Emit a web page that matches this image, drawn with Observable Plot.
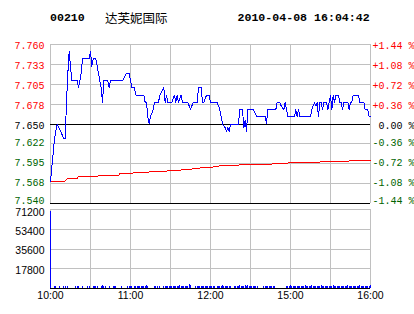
<!DOCTYPE html>
<html><head><meta charset="utf-8">
<script src="https://cdn.jsdelivr.net/npm/d3@7"></script>
<script src="https://cdn.jsdelivr.net/npm/@observablehq/plot@0.6"></script>
<style>
body{margin:0;background:#fff;}
#wrap{position:relative;width:414px;height:314px;overflow:hidden;background:#fff;}
#wrap svg{position:absolute;left:0;top:0;overflow:visible;}
.t{position:absolute;white-space:pre;color:#000;}
</style></head><body>
<div id="wrap">
<div class="t" id="code" style="left:50px;top:11px;line-height:11.6px;font:bold 11.6px 'Liberation Mono',monospace;"></div>
<div class="t" id="name" style="left:105px;top:7.5px;line-height:12.5px;font:12.5px 'Noto Sans CJK SC',sans-serif;"></div>
<div class="t" id="stamp" style="left:237.5px;top:11px;line-height:11.6px;font:bold 11.6px 'Liberation Mono',monospace;"></div>
</div>
<script>
// ---- header ----
const stockCode = "00210";
const stockName = "达芙妮国际";
const stamp = "2010-04-08 16:04:42";

// ---- price axis ----
const prevClose = 7.65;
const priceTicks = [7.76, 7.7325, 7.705, 7.6775, 7.65, 7.6225, 7.595, 7.5675, 7.54];
const priceLabels = ["7.760", "7.733", "7.705", "7.678", "7.650", "7.622", "7.595", "7.568", "7.540"];
const pctLabels = ["+1.44 %", "+1.08 %", "+0.72 %", "+0.36 %", " 0.00 %", "-0.36 %", "-0.72 %", "-1.08 %", "-1.44 %"];

// ---- time axis (trading minutes from 10:00) ----
const gridMinutes = [0, 30, 60, 90, 120, 150, 180, 210, 240];
const timeTickMinutes = [0, 60, 120, 180, 240];
const timeLabels = ["10:00", "11:00", "12:00", "15:00", "16:00"];

// ---- price series ----
const priceMinutes = [0,1,2,3,4,5,10,11,12,13,14,15,16,20,21,22,23,24,29,30,31,32,34,35,36,37,38,39,40,43,44,45,54,57,59,60,61,63,64,70,71,72,73,74,75,77,78,81,82,85,86,87,88,91,93,94,95,96,98,99,103,105,107,110,111,113,114,115,117,119,120,125,127,128,129,131,132,133,134,135,141,142,144,145,146,147,148,152,155,161,162,163,169,170,172,173,175,176,177,178,183,184,185,186,187,195,196,198,199,200,201,202,203,204,205,207,208,210,211,212,213,214,216,217,218,219,220,223,224,225,226,227,231,232,235,236,238,239,240];
const prices = [7.57,7.59,7.61,7.63,7.64,7.65,7.63,7.63,7.68,7.72,7.75,7.73,7.71,7.71,7.70,7.71,7.72,7.74,7.74,7.75,7.73,7.74,7.74,7.73,7.72,7.71,7.70,7.68,7.71,7.71,7.70,7.71,7.71,7.72,7.72,7.71,7.70,7.70,7.69,7.69,7.68,7.68,7.66,7.65,7.66,7.67,7.68,7.68,7.69,7.70,7.68,7.69,7.68,7.68,7.69,7.68,7.69,7.68,7.69,7.68,7.68,7.67,7.68,7.68,7.70,7.70,7.68,7.68,7.69,7.69,7.68,7.68,7.67,7.66,7.65,7.645,7.64,7.645,7.64,7.65,7.65,7.67,7.67,7.645,7.655,7.64,7.67,7.67,7.66,7.66,7.65,7.67,7.67,7.68,7.68,7.675,7.67,7.68,7.67,7.66,7.66,7.67,7.66,7.67,7.66,7.66,7.67,7.68,7.675,7.68,7.66,7.68,7.68,7.67,7.68,7.68,7.67,7.69,7.67,7.69,7.68,7.69,7.69,7.68,7.68,7.67,7.68,7.68,7.67,7.68,7.68,7.69,7.69,7.68,7.68,7.67,7.67,7.66,7.66];

// ---- average price series ----
const avgMinutes = [0,11,13,20,21,35,36,51,52,59,60,68,78,88,103,111,120,127,135,160,178,192,217,234,240];
const avgPrices = [7.571,7.571,7.575,7.575,7.577,7.577,7.579,7.579,7.581,7.581,7.582,7.583,7.584,7.585,7.587,7.589,7.590,7.592,7.593,7.594,7.596,7.597,7.598,7.600,7.600];

// ---- volume per minute (index = trading minute) ----
const volumes = [
69800,0,0,1800,1400,0,0,1600,0,0,2000,1800,0,1400,0,0,0,0,0,1800,1600,2200,0,0,1800,0,0,0,1600,1800,
0,0,2000,1400,1800,1600,0,0,1800,2400,1600,1400,0,0,1800,0,0,1600,2000,1400,0,0,0,1800,0,0,0,0,1600,2000,
1800,1400,0,1800,1600,2200,1400,1800,1600,2000,1400,1800,2400,1600,0,0,0,0,1800,1400,2000,0,1600,0,0,1800,2000,1600,1400,1800,
2200,1600,1800,1400,2000,1600,1800,2400,1400,1800,1600,2000,1800,1600,4000,3000,0,0,0,1800,1600,2000,1400,1800,1600,2200,1800,1400,2000,1600,
1800,1400,2000,1600,0,1800,1400,2000,1600,2400,1800,1400,2000,1600,1800,1400,0,0,1800,2200,1600,1400,2600,1800,2000,1600,3000,1800,2400,1400,
1800,1600,2000,1400,1800,1600,0,0,0,0,1800,1600,2000,1400,1800,2200,1600,1400,1800,0,0,0,0,0,0,0,0,1800,2000,1600,
2400,1800,1600,2000,1400,1800,2200,1600,2000,1800,1400,2400,1800,1600,2000,1800,2600,1600,1800,2200,2000,1600,1800,2400,1400,2000,1800,1600,2200,1800,
2000,1600,2400,1800,1400,2000,1800,1600,2200,1800,2000,1600,1800,2400,2000,1600,1800,2200,1400,2000,1800,1600,2400,1800,2000,1600,1800,2200,2000,1800,2600];
const volTicks = [71200, 53400, 35600, 17800];
const volLabels = ["71200", "53400", "35600", "17800"];

document.getElementById("code").textContent = stockCode;
document.getElementById("name").textContent = stockName;
document.getElementById("stamp").textContent = stamp;

const GRID = "#c0c0c0", RED = "#ff0000", GREEN = "#006400";
const priceData = priceMinutes.map((m, i) => ({m, p: prices[i]}));
const avgData = avgMinutes.map((m, i) => ({m, p: avgPrices[i]}));
const tickData = priceTicks.map((v, i) => ({i, v, label: priceLabels[i], pct: pctLabels[i],
  color: v > prevClose ? RED : v < prevClose ? GREEN : "#000"}));
const volData = volumes.map((v, m) => ({m, v})).filter(d => d.v > 0);
const volTickData = volTicks.map((v, i) => ({i, v, label: volLabels[i]}));
const timeData = timeTickMinutes.map((m, i) => ({m, label: timeLabels[i]}));

// label groups (small vertical nudges as in the reference)
const upper = tickData.filter(d => d.i <= 4);
const lower = tickData.filter(d => d.i > 4 && d.i < 8);
const bottom = tickData.filter(d => d.i === 8);
const labelMarks = (data, dy) => [
  Plot.text(data, {y: "v", text: "label", fill: "color", frameAnchor: "left", textAnchor: "end", dx: -6, dy,
    fontFamily: "Liberation Mono", fontSize: 10}),
  Plot.text(data, {y: "v", text: "pct", fill: "color", frameAnchor: "right", textAnchor: "start", dx: 2, dy,
    fontFamily: "Liberation Mono", fontSize: 10})
];

const pricePlot = Plot.plot({
  width: 414, height: 314,
  marginLeft: 50, marginRight: 44, marginTop: 44, marginBottom: 111,
  x: {domain: [0, 240], axis: null},
  y: {domain: [7.54, 7.76], axis: null},
  style: {background: "white", overflow: "visible"},
  marks: [
    Plot.ruleY(tickData.filter(d => d.v !== prevClose && d.v !== 7.54), {y: "v", stroke: GRID, shapeRendering: "crispEdges"}),
    Plot.ruleX(gridMinutes, {stroke: GRID, shapeRendering: "crispEdges"}),
    Plot.ruleY([prevClose], {stroke: "#000", shapeRendering: "crispEdges"}),
    Plot.ruleY([7.54], {stroke: "#000", shapeRendering: "crispEdges"}),
    Plot.line(avgData, {x: "m", y: "p", stroke: RED, strokeWidth: 1, shapeRendering: "crispEdges"}),
    Plot.line(priceData, {x: "m", y: "p", stroke: "#0000ff", strokeWidth: 1, shapeRendering: "crispEdges"}),
    ...labelMarks(upper, 1.5),
    ...labelMarks(lower, -1),
    ...labelMarks(bottom, -3)
  ]
});

const volPlot = Plot.plot({
  width: 414, height: 314,
  marginLeft: 50, marginRight: 44, marginTop: 209, marginBottom: 26,
  x: {domain: [0, 240], axis: null},
  y: {domain: [0, 71200], axis: null},
  style: {background: "transparent", overflow: "visible"},
  marks: [
    Plot.ruleY(volTickData, {y: "v", stroke: GRID, shapeRendering: "crispEdges"}),
    Plot.ruleX(gridMinutes, {stroke: GRID, shapeRendering: "crispEdges"}),
    Plot.ruleX(volData, {x: "m", y1: 0, y2: "v", stroke: "#0000ff", strokeWidth: 1, shapeRendering: "crispEdges"}),
    Plot.ruleY([0], {stroke: "#000", shapeRendering: "crispEdges"}),
    Plot.text(volTickData.filter(d => d.i === 0), {y: "v", text: "label", frameAnchor: "left", textAnchor: "end", dx: -6, dy: 3.5,
      fill: "#000", fontFamily: "Liberation Sans", fontSize: 10.5}),
    Plot.text(volTickData.filter(d => d.i > 0), {y: "v", text: "label", frameAnchor: "left", textAnchor: "end", dx: -6, dy: 2,
      fill: "#000", fontFamily: "Liberation Sans", fontSize: 10.5}),
    Plot.text(timeData, {x: "m", text: "label", frameAnchor: "bottom", dy: 10,
      fill: "#000", fontFamily: "Liberation Sans", fontSize: 10.5})
  ]
});

const wrap = document.getElementById("wrap");
wrap.insertBefore(pricePlot, wrap.firstChild);
wrap.insertBefore(volPlot, pricePlot.nextSibling);
</script>
</body></html>
